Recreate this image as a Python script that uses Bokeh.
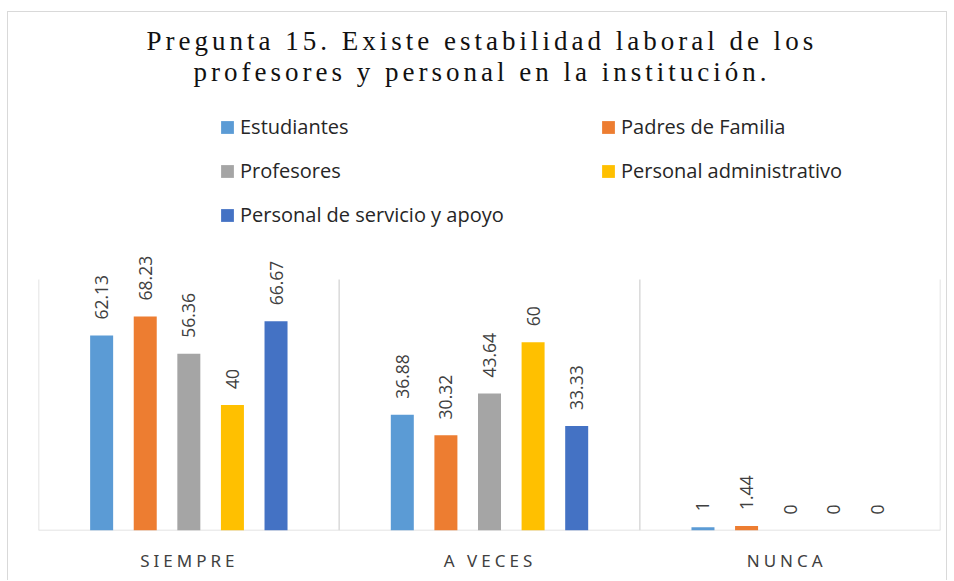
import math
from bokeh.plotting import figure
from bokeh.models import (FactorRange, Range1d, Label, LabelSet, ColumnDataSource,
                          FixedTicker)
from bokeh.transform import dodge
from bokeh.layouts import column
from bokeh.embed import file_html
from bokeh.resources import INLINE
from bokeh.core.properties import value
from bokeh.core.validation import silence
from bokeh.core.validation.warnings import MISSING_RENDERERS

silence(MISSING_RENDERERS, True)

# ---------------- data ----------------
title_line1 = "Pregunta 15. Existe estabilidad laboral de los"
title_line2 = "profesores y personal en la institución."
categories = ["SIEMPRE", "A VECES", "NUNCA"]
series_names = ["Estudiantes", "Padres de Familia", "Profesores",
                "Personal administrativo", "Personal de servicio y apoyo"]
estudiantes = [62.13, 36.88, 1]
padres = [68.23, 30.32, 1.44]
profesores = [56.36, 43.64, 0]
administrativo = [40, 60, 0]
servicio = [66.67, 33.33, 0]
colors = ["#5B9BD5", "#ED7D31", "#A5A5A5", "#FFC000", "#4472C4"]
y_max = 80

# ---------------- geometry ----------------
W = 938
HEAD_H = 89
MAIN_H = 431
FOOT_H = 40
LEFT, RIGHT = 30, 6
frame_w = W - LEFT - RIGHT
frame_h = MAIN_H - 2
y_end = frame_h * y_max / 251.0
offsets = [-0.29, -0.145, 0.0, 0.145, 0.29]
bar_w = 0.0765
n_cat = len(categories)
label_shift = 13.5 / (frame_w / n_cat)   # compensates letter-spacing of axis labels

# ---------------- head (title) ----------------
head = figure(width=W, height=HEAD_H, x_range=Range1d(0, 1), y_range=Range1d(0, 1),
              x_axis_location=None, y_axis_location=None, output_backend="svg",
              toolbar_location=None, min_border=0)
head.outline_line_color = None
head.grid.visible = False
head.styles = {"letter-spacing": "4px"}
for txt, xx, yy in [(title_line1, 108, 61), (title_line2, 155, 30)]:
    head.add_layout(Label(x=xx, y=yy, x_units="screen", y_units="screen", text=txt,
                          text_font="Liberation Serif", text_font_size="27px",
                          text_color="#111111", text_align="left",
                          text_baseline="alphabetic"))

# ---------------- main chart ----------------
series = [estudiantes, padres, profesores, administrativo, servicio]
keys = ["est", "pad", "pro", "adm", "ser"]
data = {"cat": categories}
for k, s in zip(keys, series):
    data[k] = s
    data[k + "_lbl"] = [f"{v:g}" for v in s]
source = ColumnDataSource(data)

p = figure(width=W, height=MAIN_H, x_range=FactorRange(*categories),
           y_range=Range1d(0, y_end), x_axis_location=None, y_axis_location=None,
           output_backend="svg", toolbar_location=None,
           min_border_left=LEFT, min_border_right=RIGHT, min_border_top=0,
           min_border_bottom=2)
p.outline_line_color = None
p.grid.visible = False

# category separators and baseline
bounds = list(range(n_cat + 1))
p.segment(x0=bounds, x1=bounds, y0=[0] * len(bounds), y1=[y_max] * len(bounds),
          line_color="#d9d9d9", line_width=1.5)
p.segment(x0=[0], x1=[n_cat], y0=[0], y1=[0],
          line_color="#d9d9d9", line_width=1.5)

for k, name, col, off in zip(keys, series_names, colors, offsets):
    p.vbar(x=dodge("cat", off, range=p.x_range), top=k, width=bar_w, source=source,
           fill_color=col, line_color=None, legend_label=name)
    p.add_layout(LabelSet(x=dodge("cat", off, range=p.x_range), y=k, text=k + "_lbl",
                          source=source, angle=math.pi / 2, text_align="left",
                          text_baseline="middle", y_offset=16,
                          text_font=value("Open Sans"), text_font_size="17.5px",
                          text_color="#404040"))

leg = p.legend[0]
leg.location = (181, 302)
leg.orientation = "horizontal"
leg.ncols = 2
leg.glyph_width = 16
leg.glyph_height = 16
leg.label_standoff = 5
leg.spacing = 17
leg.label_width = 343
leg.padding = 0
leg.margin = 0
leg.border_line_color = None
leg.background_fill_alpha = 0
leg.label_text_font = "Open Sans"
leg.label_text_font_size = "20px"
leg.label_text_color = "#262626"

# ---------------- foot (category axis) ----------------
foot = figure(width=W, height=FOOT_H,
              x_range=Range1d(label_shift, n_cat + label_shift), y_range=Range1d(0, 1),
              y_axis_location=None, output_backend="svg", toolbar_location=None,
              min_border_left=LEFT, min_border_right=RIGHT,
              min_border_top=0, min_border_bottom=0)
foot.outline_line_color = None
foot.grid.visible = False
foot.styles = {"letter-spacing": "4px"}
ax = foot.xaxis[0]
centers = [i + 0.5 for i in range(n_cat)]
ax.ticker = FixedTicker(ticks=centers)
ax.major_label_overrides = {c: name for c, name in zip(centers, categories)}
ax.axis_line_color = None
ax.major_tick_line_color = None
ax.minor_tick_line_color = None
ax.major_label_standoff = 10
ax.major_label_text_font = "Noto Sans"
ax.major_label_text_font_size = "17px"
ax.major_label_text_color = "#404040"

layout = column(head, p, foot, styles={
    "margin-left": "7px", "margin-top": "11px", "padding-bottom": "8px",
    "border-left": "1px solid #d9d9d9", "border-top": "1px solid #d9d9d9",
    "border-right": "1px solid #d9d9d9"})

open("out.html", "w").write(file_html(layout, INLINE))
